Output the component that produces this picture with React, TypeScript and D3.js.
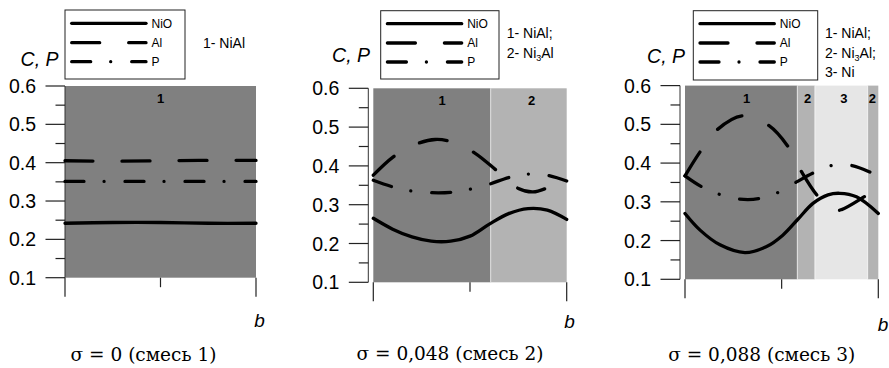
import React from 'react';
import * as d3 from 'd3';

// ---------- shared axis data ----------
const yTicks = [0.1, 0.2, 0.3, 0.4, 0.5, 0.6];
const yMinorTicks = [0.15, 0.25, 0.35, 0.45, 0.55];
const bTicks = [0, 0.5, 1];
const seriesNames = ['NiO', 'Al', 'P'];
const phaseNames = ['NiAl', 'Ni3Al', 'Ni'];

// ---------- panel 1 (σ = 0) ----------
const p1B = [0, 0.25, 0.5, 0.75, 1];
const p1NiO = [0.242, 0.244, 0.244, 0.242, 0.242];
const p1Al = [0.405, 0.404, 0.405, 0.406, 0.406];
const p1P = [0.351, 0.351, 0.351, 0.351, 0.351];
const p1RegionBounds = [0, 1];
const p1RegionPhases = [1];
const p1PhaseList = [1];
const p1Title = 'σ = 0 (смесь 1)';

// ---------- panel 2 (σ = 0,048) ----------
const p2B = [0, 0.1, 0.2, 0.3, 0.4, 0.5, 0.6, 0.7, 0.8, 0.9, 1];
const p2NiO = [0.265, 0.237, 0.217, 0.206, 0.206, 0.219, 0.25, 0.277, 0.29, 0.286, 0.262];
const p2AlB = [0, 0.1, 0.2, 0.32, 0.42, 0.525, 0.645, 0.75, 0.826, 0.913, 1];
const p2Al = [0.376, 0.422, 0.452, 0.468, 0.46, 0.433, 0.385, 0.342, 0.333, 0.346, 0.365];
const p2P = [0.363, 0.346, 0.335, 0.331, 0.332, 0.34, 0.353, 0.37, 0.379, 0.376, 0.361];
const p2RegionBounds = [0, 0.607, 1];
const p2RegionPhases = [1, 2];
const p2PhaseList = [1, 2];
const p2Title = 'σ = 0,048 (смесь 2)';

// ---------- panel 3 (σ = 0,088) ----------
const p3NiOB = [0, 0.078, 0.181, 0.31, 0.42, 0.506, 0.584, 0.662, 0.74, 0.8, 0.887, 1];
const p3NiO = [0.27, 0.227, 0.189, 0.169, 0.184, 0.214, 0.255, 0.296, 0.318, 0.322, 0.313, 0.27];
const p3AlB = [0, 0.078, 0.164, 0.298, 0.431, 0.534, 0.6, 0.69, 0.775, 0.81, 0.94, 1];
const p3Al = [0.367, 0.429, 0.485, 0.522, 0.498, 0.442, 0.38, 0.313, 0.278, 0.28, 0.317, 0.335];
const p3PB = [0, 0.086, 0.18, 0.28, 0.38, 0.49, 0.58, 0.67, 0.77, 0.87, 0.97, 1];
const p3P = [0.367, 0.339, 0.319, 0.307, 0.308, 0.326, 0.352, 0.376, 0.395, 0.393, 0.374, 0.368];
const p3RegionBounds = [0, 0.581, 0.672, 0.945, 1];
const p3RegionPhases = [1, 2, 3, 2];
const p3PhaseList = [1, 2, 3];
const p3Title = 'σ = 0,088 (смесь 3)';

// ---------- styling / layout ----------
const SANS = '"Liberation Sans", Arial, Helvetica, sans-serif';
const SERIF = '"DejaVu Serif", "Liberation Serif", serif';
const phaseFill: Record<number, string> = { 1: '#808080', 2: '#b3b3b3', 3: '#e6e6e6' };
const dashes = ['none', '28 29', '19 20 0.01 21'];
const LW = 3.3;

type PanelDef = {
  series: { b: number[]; v: number[] }[];
  bounds: number[];
  phases: number[];
  phaseList: number[];
  title: string;
  layout: {
    axisX: number; left: number; right: number; yTop: number; yBottom: number;
    cpX: number; cpY: number;
    legX: number; legY: number; legW: number; legH: number; legRows: number[];
    phX: number; phY: number; phStep: number;
    titleX: number; titleY: number; bX: number; bY: number;
    labelShift: number[];
  };
};

const panels: PanelDef[] = [
  {
    series: [
      { b: p1B, v: p1NiO },
      { b: p1B, v: p1Al },
      { b: p1B, v: p1P },
    ],
    bounds: p1RegionBounds, phases: p1RegionPhases, phaseList: p1PhaseList, title: p1Title,
    layout: {
      axisX: 65, left: 65, right: 256, yTop: 86, yBottom: 277.7,
      cpX: 58.5, cpY: 66,
      legX: 65, legY: 10, legW: 120, legH: 69, legRows: [13.3, 32.7, 51.7],
      phX: 203, phY: 47.5, phStep: 19.5,
      titleX: 143.5, titleY: 361, bX: 259.5, bY: 327,
      labelShift: [0],
    },
  },
  {
    series: [
      { b: p2B, v: p2NiO },
      { b: p2AlB, v: p2Al },
      { b: p2B, v: p2P },
    ],
    bounds: p2RegionBounds, phases: p2RegionPhases, phaseList: p2PhaseList, title: p2Title,
    layout: {
      axisX: 368.3, left: 373.3, right: 566.7, yTop: 88.3, yBottom: 282.3,
      cpX: 370, cpY: 62,
      legX: 380.7, legY: 10.7, legW: 118.3, legH: 68.3, legRows: [13, 32.3, 51.3],
      phX: 506.7, phY: 38.3, phStep: 19.7,
      titleX: 450, titleY: 360, bX: 569.5, bY: 328,
      labelShift: [10, 3],
    },
  },
  {
    series: [
      { b: p3NiOB, v: p3NiO },
      { b: p3AlB, v: p3Al },
      { b: p3PB, v: p3P },
    ],
    bounds: p3RegionBounds, phases: p3RegionPhases, phaseList: p3PhaseList, title: p3Title,
    layout: {
      axisX: 680, left: 685, right: 878.3, yTop: 85.6, yBottom: 279.3,
      cpX: 685, cpY: 63,
      legX: 693.3, legY: 10.7, legW: 124.4, legH: 69.3, legRows: [13, 32.3, 51.3],
      phX: 825, phY: 38.3, phStep: 19.5,
      titleX: 761.7, titleY: 360.5, bX: 883, bY: 330.5,
      labelShift: [5.5, 1.5, 2.5, -0.5],
    },
  },
];

function PhaseName({ name }: { name: string }) {
  // render digits inside formula as subscript
  const parts = name.split(/(\d+)/).filter((s) => s.length > 0);
  return (
    <>
      {parts.map((p, i) =>
        /^\d+$/.test(p) ? (
          <tspan key={i} fontSize={9} dy={3}>{p}</tspan>
        ) : (
          <tspan key={i} dy={i > 0 && /^\d+$/.test(parts[i - 1]) ? -3 : 0}>{p}</tspan>
        )
      )}
    </>
  );
}

function Panel({ p }: { p: PanelDef }) {
  const L = p.layout;
  const x = d3.scaleLinear().domain([0, 1]).range([L.left, L.right]);
  const y = d3.scaleLinear().domain([0.1, 0.6]).range([L.yBottom, L.yTop]);
  const line = d3
    .line<[number, number]>()
    .x((d) => x(d[0]))
    .y((d) => y(d[1]))
    .curve(d3.curveCatmullRom.alpha(0.5));
  const regions = p.phases.map((ph, i) => ({ ph, b0: p.bounds[i], b1: p.bounds[i + 1] }));
  const multi = p.phaseList.length > 1;

  return (
    <g>
      {/* regions */}
      {regions.map((r, i) => (
        <rect key={i} x={x(r.b0)} y={y(0.6)} width={x(r.b1) - x(r.b0)} height={y(0.1) - y(0.6)} fill={phaseFill[r.ph]} />
      ))}
      {regions.slice(1).map((r, i) => (
        <line key={i} x1={x(r.b0)} x2={x(r.b0)} y1={y(0.6)} y2={y(0.1)} stroke="#ffffff" strokeWidth={0.8} opacity={0.8} />
      ))}
      {regions.map((r, i) => (
        <text key={i} x={(x(r.b0) + x(r.b1)) / 2 + L.labelShift[i]} y={y(0.6) + 17} fontFamily={SANS} fontWeight="bold" fontSize={13} textAnchor="middle" fill="#000">
          {r.ph}
        </text>
      ))}

      {/* y axis */}
      <line x1={L.axisX} x2={L.axisX} y1={y(0.6)} y2={y(0.1)} stroke="#333" strokeWidth={1} />
      {yTicks.map((t) => (
        <g key={t}>
          <line x1={L.axisX - 19.5} x2={L.axisX} y1={y(t)} y2={y(t)} stroke="#222" strokeWidth={1.2} />
          <text x={L.axisX - 29} y={y(t)} dy="0.36em" textAnchor="end" fontFamily={SANS} fontSize={19.5} fill="#000">
            {d3.format('.1f')(t)}
          </text>
        </g>
      ))}
      {yMinorTicks.map((t) => (
        <line key={t} x1={L.axisX - 9.5} x2={L.axisX} y1={y(t)} y2={y(t)} stroke="#222" strokeWidth={1.2} />
      ))}

      {/* x axis ticks */}
      {bTicks.map((t, i) => (
        <line key={t} x1={x(t)} x2={x(t)} y1={y(0.1)} y2={y(0.1) + (i === 1 ? 9.5 : 19)} stroke="#222" strokeWidth={1.2} />
      ))}

      {/* curves */}
      {p.series.map((s, i) => (
        <path
          key={i}
          d={line(s.b.map((b, j) => [b, s.v[j]] as [number, number])) || ''}
          fill="none"
          stroke="#000"
          strokeWidth={LW}
          strokeLinecap="round"
          strokeLinejoin="round"
          strokeDasharray={dashes[i]}
        />
      ))}

      {/* axis labels */}
      <text x={L.cpX} y={L.cpY} textAnchor="end" fontFamily={SANS} fontStyle="italic" fontSize={19.5} fill="#000">C, P</text>
      <text x={L.bX} y={L.bY} textAnchor="middle" fontFamily={SANS} fontStyle="italic" fontSize={19} fill="#000">b</text>

      {/* legend */}
      <rect x={L.legX} y={L.legY} width={L.legW} height={L.legH} fill="#fff" stroke="#222" strokeWidth={1} />
      {seriesNames.map((n, i) => (
        <g key={n}>
          <line
            x1={L.legX + 6.7}
            x2={L.legX + 81}
            y1={L.legY + L.legRows[i]}
            y2={L.legY + L.legRows[i]}
            stroke="#000"
            strokeWidth={LW}
            strokeLinecap="round"
            strokeDasharray={dashes[i]}
          />
          <text x={L.legX + 86.5} y={L.legY + L.legRows[i]} dy="0.36em" fontFamily={SANS} fontSize={12} fill="#000">
            {n}
          </text>
        </g>
      ))}

      {/* phase list */}
      {p.phaseList.map((ph, i) => (
        <text key={ph} x={L.phX} y={L.phY + i * L.phStep} fontFamily={SANS} fontSize={14} fill="#000">
          {`${ph}- `}
          <PhaseName name={phaseNames[ph - 1]} />
          {multi && i < p.phaseList.length - 1 ? ';' : ''}
        </text>
      ))}

      {/* title */}
      <text x={L.titleX} y={L.titleY} textAnchor="middle" fontFamily={SERIF} fontSize={18.5} fill="#000">
        {p.title}
      </text>
    </g>
  );
}

export default function App() {
  return (
    <svg width={889} height={368} style={{ position: 'absolute', left: 0, top: 0, background: '#fff' }}>
      <rect x={0} y={0} width={889} height={368} fill="#fff" />
      {panels.map((p, i) => (
        <Panel key={i} p={p} />
      ))}
    </svg>
  );
}
